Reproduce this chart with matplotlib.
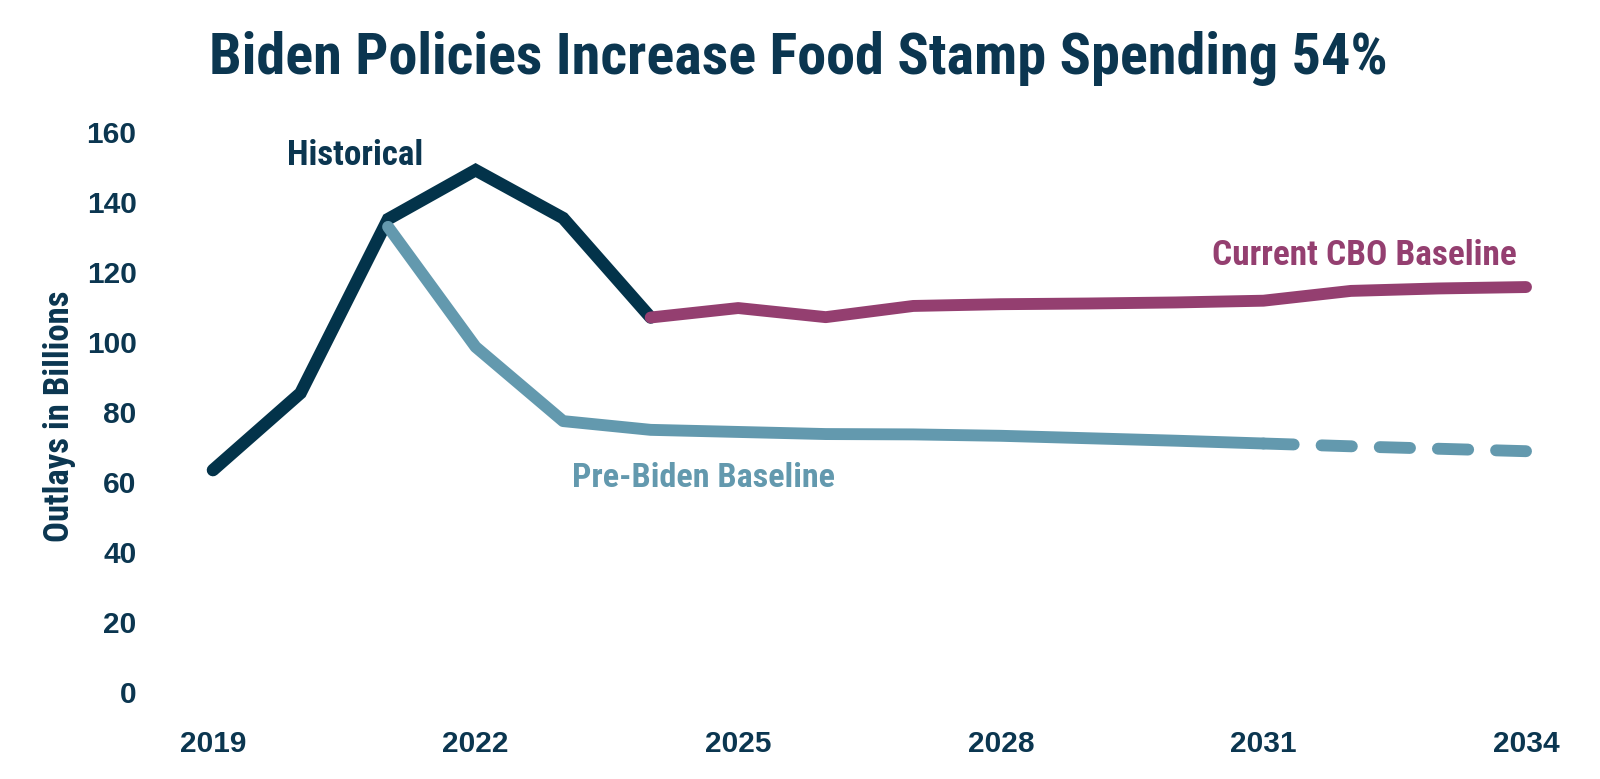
import matplotlib
matplotlib.use("Agg")
import matplotlib.pyplot as plt

# ---- data ----
hist_years = [2019, 2020, 2021, 2022, 2023, 2024]
hist_vals = [63.4, 85.4, 135.1, 149.1, 135.4, 107.0]

cbo_years = [2024, 2025, 2026, 2027, 2028, 2029, 2030, 2031, 2032, 2033, 2034]
cbo_vals = [107.0, 109.7, 107.1, 110.3, 110.8, 111.0, 111.3, 111.8, 114.6, 115.3, 115.7]

pre_years = [2021, 2022, 2023, 2024, 2025, 2026, 2027, 2028, 2029, 2030, 2031, 2032, 2033, 2034]
pre_vals = [132.9, 98.6, 77.4, 74.9, 74.3, 73.7, 73.6, 73.2, 72.5, 71.8, 71.0, 70.2, 69.5, 68.8]
pre_solid_end = 2031  # projection beyond this year drawn dashed

x_ticks = [2019, 2022, 2025, 2028, 2031, 2034]
y_ticks = [0, 20, 40, 60, 80, 100, 120, 140, 160]

title = "Biden Policies Increase Food Stamp Spending 54%"
y_label = "Outlays in Billions"
lbl_hist = "Historical"
lbl_cbo = "Current CBO Baseline"
lbl_pre = "Pre-Biden Baseline"

# ---- styles ----
C_HIST = "#03334A"
C_PRE = "#6399AE"
C_CBO = "#943F70"
C_TEXT = "#0B3650"
LABEL_FONT = ["Roboto Condensed", "Roboto", "DejaVu Sans"]
TICK_FONT = ["Liberation Sans", "DejaVu Sans"]

W, H = 1600, 779
fig = plt.figure(figsize=(W / 100, H / 100), dpi=100)
fig.patch.set_facecolor("white")

# axes placement (pixels): x 169..1570, y 132..692
left, right, top, bottom = 169.2, 1569.8, 132.0, 692.0
ax = fig.add_axes([left / W, 1 - bottom / H, (right - left) / W, (bottom - top) / H])
ax.set_xlim(2018.5, 2034.5)
ax.set_ylim(0, 160)
for s in ax.spines.values():
    s.set_visible(False)
ax.set_facecolor("none")

lw = 9.0
ax.plot(hist_years, hist_vals, color=C_HIST, lw=lw, solid_capstyle="round",
        solid_joinstyle="miter", zorder=3)
pre_solid_x = [y for y in pre_years if y <= pre_solid_end]
pre_solid_y = [v for y, v in zip(pre_years, pre_vals) if y <= pre_solid_end]
pre_dash_x = [y for y in pre_years if y >= pre_solid_end]
pre_dash_y = [v for y, v in zip(pre_years, pre_vals) if y >= pre_solid_end]
ax.plot(pre_solid_x, pre_solid_y, color=C_PRE, lw=lw * 0.95, solid_capstyle="round",
        solid_joinstyle="round", zorder=4)
ax.plot(pre_dash_x, pre_dash_y, color=C_PRE, lw=lw * 0.95, dash_capstyle="round",
        dashes=(2.55, 2.35), zorder=4)
ax.plot(cbo_years, cbo_vals, color=C_CBO, lw=lw * 0.95, solid_capstyle="round",
        solid_joinstyle="round", zorder=5)

ax.set_xticks(x_ticks)
ax.set_xticklabels([str(t) for t in x_ticks])
ax.set_yticks(y_ticks)
ax.set_yticklabels([str(t) for t in y_ticks])
ax.tick_params(axis="both", length=0, colors=C_TEXT, labelsize=21.5)
ax.tick_params(axis="x", pad=27)
ax.tick_params(axis="y", pad=23.5)
for t in ax.get_xticklabels() + ax.get_yticklabels():
    t.set_fontfamily(TICK_FONT)
    t.set_fontweight("bold")


def fpos(px, py):
    return px / W, 1 - py / H


t_title = fig.text(*fpos(798, 73.5), title, ha="center", va="baseline",
                   color=C_TEXT, fontsize=40, fontweight="bold", family=LABEL_FONT)
t_y = fig.text(*fpos(69, 416), y_label, ha="center", va="baseline", rotation=90,
               rotation_mode="anchor", color=C_TEXT, fontsize=18, fontweight="bold",
               family=LABEL_FONT)
t_h = fig.text(*fpos(355, 165), lbl_hist, ha="center", va="baseline",
               color=C_TEXT, fontsize=18, fontweight="bold", family=LABEL_FONT)
t_c = fig.text(*fpos(1364.5, 265), lbl_cbo, ha="center", va="baseline",
               color=C_CBO, fontsize=18, fontweight="bold", family=LABEL_FONT)
t_p = fig.text(*fpos(703.5, 487), lbl_pre, ha="center", va="baseline",
               color=C_PRE, fontsize=18, fontweight="bold", family=LABEL_FONT)

# scale label font sizes so their drawn widths match the reference
fig.canvas.draw()
r = fig.canvas.get_renderer()
for t, target, rotated in [(t_title, 1178, False), (t_y, 250, True), (t_h, 136, False),
                           (t_c, 305, False), (t_p, 263, False)]:
    bb = t.get_window_extent(renderer=r)
    cur = bb.height if rotated else bb.width
    t.set_fontsize(t.get_fontsize() * target / cur)

fig.savefig("out.png", dpi=100, facecolor="white")
